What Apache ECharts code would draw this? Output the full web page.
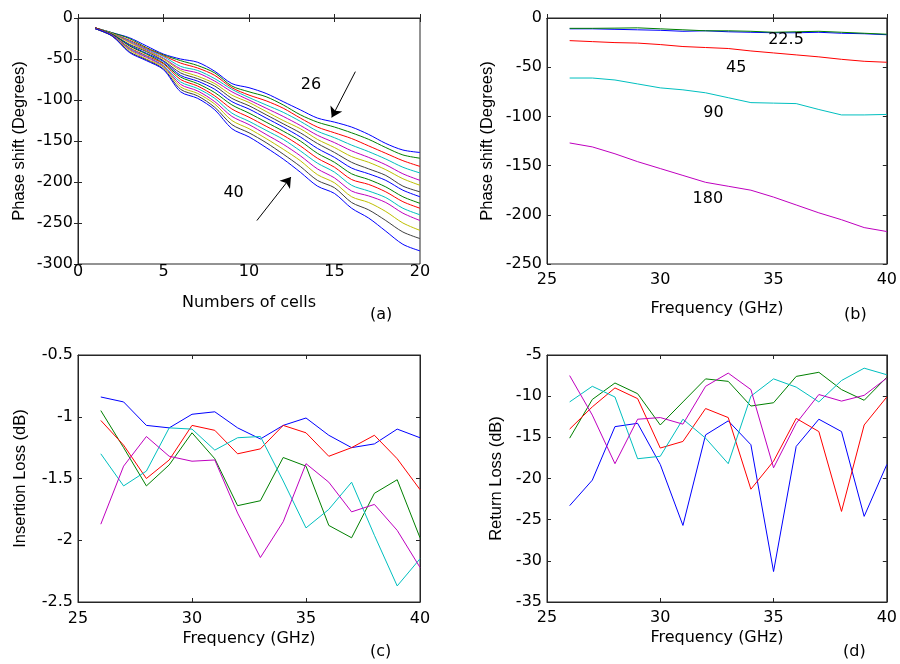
<!DOCTYPE html>
<html><head><meta charset="utf-8">
<script src="https://cdn.jsdelivr.net/npm/echarts@6/dist/echarts.min.js"></script>
<style>html,body{margin:0;padding:0;background:#fff}#c{width:900px;height:664px}</style>
</head><body><div id="c"></div>
<script>
// ---------- data ----------
const cells = [1,2,3,4,5,6,7,8,9,10,11,12,13,14,15,16,17,18,19,20];
const freqGHz = [26,27,28,29,30,31,32,33,34,35,36,37,38,39,40];

// (a) phase shift vs number of cells, one line per frequency 26..40 GHz
const phase26 = [-12,-18,-24,-34,-44,-50,-54,-65,-80,-85,-92,-102,-112,-122,-127,-133,-142,-153,-161,-164];
const phase27 = [-12,-18,-25,-36,-45,-52,-58,-67,-83,-90,-96,-106,-118,-127,-133,-140,-148,-158,-167,-171];
const phase28 = [-12,-19,-27,-37,-46,-55,-61,-70,-85,-94,-101,-110,-122,-133,-140,-147,-156,-165,-174,-181];
const phase29 = [-12,-19,-28,-38,-47,-59,-64,-74,-87,-97,-106,-115,-126,-138,-146,-155,-163,-172,-182,-189];
const phase30 = [-12,-19,-29,-39,-49,-62,-67,-77,-90,-100,-110,-120,-131,-143,-152,-162,-170,-179,-190,-198];
const phase31 = [-12,-19,-30,-40,-50,-64,-71,-80,-94,-103,-114,-125,-135,-148,-158,-169,-176,-185,-196,-204];
const phase32 = [-12,-20,-32,-41,-52,-67,-74,-83,-98,-107,-118,-129,-140,-153,-164,-176,-184,-192,-205,-212];
const phase33 = [-12,-20,-33,-43,-53,-70,-77,-87,-102,-111,-122,-133,-145,-159,-170,-183,-190,-198,-210,-218];
const phase34 = [-12,-20,-34,-44,-55,-72,-80,-91,-106,-116,-127,-138,-150,-165,-176,-190,-197,-206,-218,-226];
const phase35 = [-12,-21,-36,-46,-56,-75,-83,-95,-111,-121,-132,-143,-156,-171,-182,-197,-203,-212,-224,-232];
const phase36 = [-13,-21,-37,-47,-58,-78,-86,-98,-116,-126,-137,-148,-162,-177,-188,-204,-211,-219,-232,-240];
const phase37 = [-13,-21,-38,-48,-59,-81,-89,-102,-120,-130,-142,-154,-168,-184,-195,-211,-217,-225,-238,-247];
const phase38 = [-13,-22,-39,-50,-60,-84,-92,-105,-125,-135,-147,-160,-174,-191,-201,-218,-225,-236,-250,-259];
const phase39 = [-13,-22,-41,-51,-62,-87,-95,-109,-130,-140,-152,-166,-181,-198,-207,-225,-234,-247,-261,-269];
const phase40 = [-13,-22,-42,-52,-63,-90,-98,-112,-135,-145,-158,-172,-188,-205,-214,-232,-244,-260,-276,-284];

// (b) phase shift vs frequency for each bit
const bitA = [-11,-11,-11.5,-12,-12.5,-13.5,-13,-14,-14.5,-15,-15,-14.5,-15.5,-16,-17];
const bitB = [-10.5,-10.5,-10.3,-10,-11,-12,-13,-13,-13.5,-14.5,-14,-13.5,-14.5,-15.5,-16.5];
const bit45 = [-23,-24,-25,-25.5,-27,-29,-30,-31,-33.5,-35.5,-37.5,-39.5,-42,-44,-45];
const bit90 = [-61,-61,-63,-67,-71,-73,-76,-81,-86,-86.5,-87,-93,-98.5,-98.5,-98];
const bit180 = [-127,-131,-138,-146,-153,-160,-167,-171,-175,-182,-190,-198,-205,-213,-217];

// (c) insertion loss (dB)
const ilBlue = [-0.84,-0.88,-1.07,-1.09,-0.98,-0.96,-1.09,-1.18,-1.07,-1.01,-1.15,-1.25,-1.22,-1.10,-1.17];
const ilGreen = [-0.95,-1.25,-1.56,-1.39,-1.13,-1.34,-1.72,-1.68,-1.33,-1.40,-1.88,-1.98,-1.62,-1.51,-1.98];
const ilRed = [-1.03,-1.23,-1.50,-1.35,-1.07,-1.11,-1.30,-1.26,-1.07,-1.13,-1.32,-1.25,-1.15,-1.34,-1.59];
const ilCyan = [-1.30,-1.56,-1.44,-1.09,-1.10,-1.27,-1.17,-1.16,-1.52,-1.90,-1.75,-1.53,-1.96,-2.37,-2.15];
const ilMagenta = [-1.87,-1.40,-1.16,-1.32,-1.36,-1.35,-1.78,-2.14,-1.85,-1.38,-1.53,-1.77,-1.71,-1.92,-2.22];

// (d) return loss (dB)
const rlBlue = [-23.3,-20.2,-13.7,-13.3,-18.3,-25.7,-14.7,-13.0,-15.9,-31.3,-16.1,-12.8,-14.3,-24.6,-18.3];
const rlGreen = [-15.1,-10.4,-8.4,-9.7,-13.5,-10.7,-7.9,-8.2,-11.2,-10.8,-7.6,-7.1,-9.2,-10.5,-7.7];
const rlRed = [-14.0,-11.3,-9.0,-10.3,-16.3,-15.5,-11.5,-12.6,-21.3,-17.9,-12.7,-14.3,-24.0,-13.5,-10.1];
const rlCyan = [-10.7,-8.8,-10.1,-17.6,-17.3,-12.8,-15.1,-18.2,-10.0,-7.9,-8.9,-10.7,-8.1,-6.6,-7.4];
const rlMagenta = [-7.5,-12.3,-18.2,-12.8,-12.6,-13.4,-8.8,-7.2,-9.2,-18.7,-13.3,-9.8,-10.6,-9.9,-7.8];

// annotations (data coordinates)
const arrowsA = [[[16.22,-65.4],[14.84,-121.2]], [[10.46,-247],[12.45,-194]]];
const textA = [['26',13.62,-81.6],['40',9.1,-213]];
const textB = [['22.5',35.55,-22.1],['45',33.35,-50.9],['90',32.35,-96.8],['180',32.1,-183.4]];

// ---------- styling ----------
const WIDE = 'DejaVu Sans';
const NARROW = 'Liberation Sans';
const AX = '#262626';
const matlab = ['#0000ff','#008000','#ff0000','#00bfbf','#bf00bf','#bfbf00','#404040'];

const panels = [
  {grid:{left:78,top:18,width:342,height:246}, x:[0,20,5], y:[-300,0,50],
   xName:'Numbers of cells', xNameGap:31, xLM:0, yName:'Phase shift (Degrees)', yNameGap:50},
  {grid:{left:547,top:18,width:341,height:246}, x:[25,40,5], y:[-250,0,50],
   xName:'Frequency (GHz)', xNameGap:37, xLM:8, yName:'Phase shift (Degrees)', yNameGap:51},
  {grid:{left:78,top:355,width:342,height:247}, x:[25,40,5], y:[-2.5,-0.5,0.5],
   xName:'Frequency (GHz)', xNameGap:29, xLM:9, yName:'Insertion Loss (dB)', yNameGap:49},
  {grid:{left:547,top:355,width:341,height:247}, x:[25,40,5], y:[-35,-5,5],
   xName:'Frequency (GHz)', xNameGap:28, xLM:8, yName:'Return Loss (dB)', yNameGap:42}
];

const grid = [], xAxis = [], yAxis = [];
panels.forEach((p, i) => {
  grid.push(Object.assign({show:true, borderColor:AX, borderWidth:1, backgroundColor:'#fff'}, p.grid));
  const tick = {show:true, inside:true, length:4, lineStyle:{color:AX}};
  const line = {show:true, lineStyle:{color:AX, width:1}};
  xAxis.push({type:'value', gridIndex:i, min:p.x[0], max:p.x[1], interval:p.x[2], position:'bottom',
    axisLine:line, axisTick:tick, splitLine:{show:false},
    axisLabel:{color:'#000', fontFamily:WIDE, fontSize:16, margin:p.xLM},
    name:p.xName, nameLocation:'middle', nameGap:p.xNameGap,
    nameTextStyle:{color:'#000', fontFamily:WIDE, fontSize:16}});
  xAxis.push({type:'value', gridIndex:i, min:p.x[0], max:p.x[1], interval:p.x[2], position:'top',
    axisLine:line, axisTick:tick, splitLine:{show:false}, axisLabel:{show:false}});
  yAxis.push({type:'value', gridIndex:i, min:p.y[0], max:p.y[1], interval:p.y[2], position:'left',
    axisLine:line, axisTick:tick, splitLine:{show:false},
    axisLabel:{color:'#000', fontFamily:WIDE, fontSize:16, margin:5},
    name:p.yName, nameLocation:'middle', nameGap:p.yNameGap,
    nameTextStyle:{color:'#000', fontFamily:NARROW, fontSize:16.5}});
  yAxis.push({type:'value', gridIndex:i, min:p.y[0], max:p.y[1], interval:p.y[2], position:'right',
    axisLine:line, axisTick:tick, splitLine:{show:false}, axisLabel:{show:false}});
});

function mkLine(panel, xs, ys, color, smooth) {
  return {type:'line', xAxisIndex:panel*2, yAxisIndex:panel*2, showSymbol:false, symbol:'none',
    smooth: smooth || false, silent:true, animation:false,
    lineStyle:{color:color, width:1}, data: xs.map((x, k) => [x, ys[k]])};
}
function textMarks(list) {
  return {symbol:'circle', symbolSize:0, silent:true, animation:false,
    label:{show:true, position:'inside', formatter:'{b}', color:'#000', fontFamily:WIDE, fontSize:16},
    data: list.map(t => ({name:t[0], coord:[t[1], t[2]]}))};
}

const series = [];
const aLines = [phase26,phase27,phase28,phase29,phase30,phase31,phase32,phase33,phase34,phase35,phase36,phase37,phase38,phase39,phase40];
aLines.forEach((arr, k) => series.push(mkLine(0, cells, arr, matlab[k % 7], 0.3)));
series[0].markLine = {silent:true, animation:false, symbol:['none','arrow'], symbolSize:10,
  lineStyle:{color:'#000', width:1, type:'solid'}, label:{show:false},
  data: arrowsA.map(a => [{coord:a[0]}, {coord:a[1]}])};
series[0].markPoint = textMarks(textA);

[bitA, bitB, bit45, bit90, bit180].forEach((arr, k) => series.push(mkLine(1, freqGHz, arr, matlab[k])));
series[series.length - 5].markPoint = textMarks(textB);

[ilBlue, ilGreen, ilRed, ilCyan, ilMagenta].forEach((arr, k) => series.push(mkLine(2, freqGHz, arr, matlab[k])));
[rlBlue, rlGreen, rlRed, rlCyan, rlMagenta].forEach((arr, k) => series.push(mkLine(3, freqGHz, arr, matlab[k])));

const panelTags = [['(a)',383,316],['(b)',857,316],['(c)',383,653],['(d)',856,653]];
const graphic = panelTags.map(t => ({type:'text', left:t[1]-13, top:t[2]-9,
  style:{text:t[0], fill:'#000', font:'16px "DejaVu Sans"'}}));

const chart = echarts.init(document.getElementById('c'), null, {renderer:'canvas'});
chart.setOption({animation:false, backgroundColor:'#fff', grid, xAxis, yAxis, series, graphic});
</script>
</body></html>
